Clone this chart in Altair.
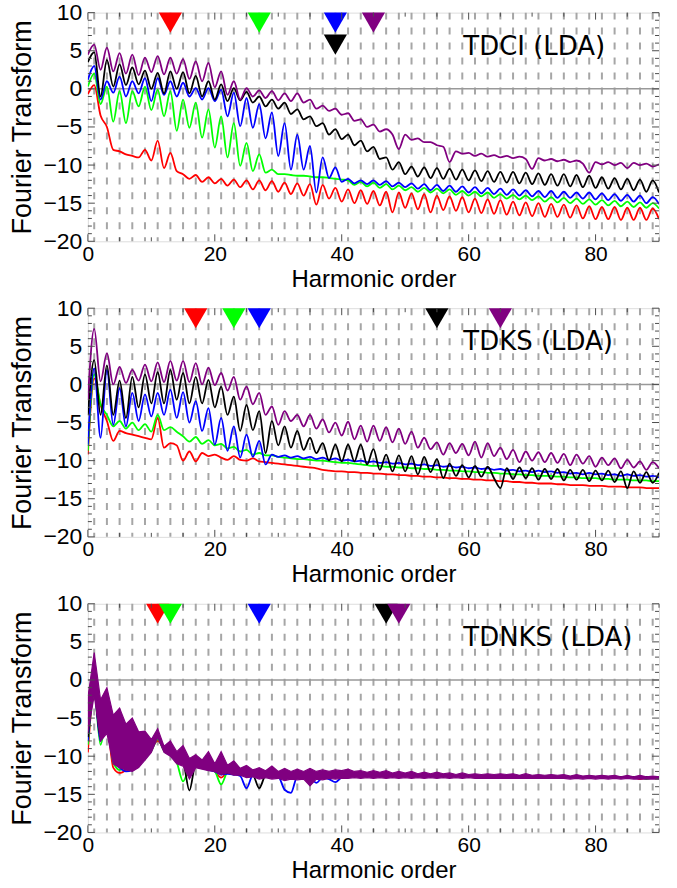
import altair as alt
import pandas as pd

HARM = list(range(91))
ODD = list(range(1, 90, 2))
NAMES = ["red", "green", "blue", "black", "purple"]
COLORS = {"red": "#ff0000", "green": "#00ff00", "blue": "#0000ff",
          "black": "#000000", "purple": "#800080"}
PANEL_LABELS = ["TDCI (LDA)", "TDKS (LDA)", "TDNKS (LDA)"]

# ---------------- Panel 1 : TDCI (LDA) ----------------
P1_RED = [-0.7, 0.5, -3.5, -5.0, -8.0, -8.2, -8.6, -8.8, -9.0, -8.0,
          -9.4, -6.8, -10.4, -8.4, -10.8, -11.2, -11.8, -11.3, -12.2, -11.6,
          -12.4, -11.8, -12.7, -11.9, -12.9, -12.0, -13.2, -12.0, -13.3, -12.1,
          -13.5, -12.3, -13.8, -12.4, -14.0, -12.5, -15.2, -12.6, -14.4, -13.0,
          -14.8, -13.2, -15.0, -13.3, -15.1, -13.4, -15.3, -13.5, -16.2, -13.6,
          -15.6, -13.7, -15.8, -13.8, -16.2, -14.0, -15.9, -14.1, -16.0, -14.2,
          -16.2, -14.4, -16.3, -14.5, -16.4, -14.6, -16.5, -14.8, -16.6, -14.9,
          -16.7, -15.0, -16.8, -15.1, -16.8, -15.2, -16.9, -15.3, -17.0, -15.4,
          -17.1, -15.5, -17.1, -15.5, -17.2, -15.6, -17.2, -15.6, -17.2, -15.7,
          -17.1]
P1_GREEN = [0.3, 2.0, -2.0, 0.3, -4.3, -0.3, -4.5, -0.3, -2.3, 0.3,
            -2.8, -0.1, -3.6, -0.3, -5.5, -1.4, -5.1, -1.8, -6.4, -2.7,
            -7.7, -3.6, -9.0, -4.5, -10.1, -7.1, -10.8, -8.6, -11.0, -10.6,
            -11.2, -11.2, -11.3, -11.4, -11.4, -11.5, -11.6, -11.6, -11.7, -11.8,
            -11.9, -12.0, -12.6, -12.2, -12.8, -12.3, -13.0, -12.5, -13.2, -12.7,
            -13.3, -12.9, -13.5, -13.0, -13.6, -13.1, -13.7, -13.2, -13.9, -13.4,
            -14.0, -13.5, -14.1, -13.6, -14.3, -13.8, -14.4, -13.9, -14.5, -14.0,
            -14.6, -14.1, -14.8, -14.2, -14.9, -14.3, -15.0, -14.4, -15.1, -14.5,
            -15.2, -14.6, -15.3, -14.7, -15.4, -14.8, -15.5, -14.9, -15.6, -15.0,
            -15.7]
P1_BLUE = [1.2, 3.0, -1.4, 1.0, -0.5, 1.6, -1.0, 1.0, -0.6, 1.4,
           -1.6, 1.4, -0.8, 1.0, -1.0, 0.8, -1.0, 0.1, -1.4, 0.1,
           -1.6, -0.1, -3.6, -0.5, -4.9, -1.2, -5.1, -2.0, -6.5, -3.1,
           -8.8, -4.5, -10.6, -6.0, -10.6, -7.5, -13.6, -9.0, -11.7, -10.3,
           -12.2, -11.8, -12.4, -12.0, -12.5, -12.0, -12.6, -12.1, -12.8, -12.3,
           -12.9, -12.4, -13.1, -12.5, -13.3, -12.6, -13.4, -12.7, -13.5, -12.8,
           -13.6, -12.9, -13.7, -13.0, -13.8, -13.1, -13.9, -13.2, -14.0, -13.3,
           -14.1, -13.4, -14.2, -13.4, -14.3, -13.5, -14.3, -13.6, -14.4, -13.6,
           -14.5, -13.7, -14.6, -13.8, -14.7, -13.9, -14.8, -14.0, -15.0, -14.2,
           -15.1]
P1_BLACK = [3.5, 4.8, -1.0, 3.8, 0.3, 3.2, 0.5, 2.8, 0.6, 2.4,
            0.0, 2.1, -0.6, 2.3, 0.0, 2.2, -0.6, 1.7, -1.0, 1.0,
            -1.4, 0.6, -1.6, 0.1, -1.5, -0.4, -1.8, -1.0, -2.3, -1.4,
            -2.6, -1.8, -3.3, -2.7, -4.0, -3.6, -4.9, -4.5, -6.0, -5.3,
            -6.6, -6.0, -7.4, -6.8, -8.2, -7.6, -9.2, -9.0, -10.6, -9.6,
            -11.2, -10.2, -11.5, -10.3, -11.7, -10.4, -11.8, -10.5, -11.9, -10.6,
            -12.0, -10.7, -12.1, -10.8, -12.2, -10.9, -12.3, -10.9, -12.4, -11.0,
            -12.5, -11.1, -12.6, -11.2, -12.7, -11.2, -12.8, -11.3, -12.9, -11.4,
            -13.0, -11.6, -13.1, -11.7, -13.2, -11.8, -13.3, -11.9, -13.5, -12.0,
            -13.6]
P1_PURPLE = [4.5, 5.8, 2.5, 5.4, 2.3, 4.7, 2.0, 4.5, 1.8, 4.1,
             2.2, 4.3, 1.9, 4.1, 2.0, 3.9, 1.3, 3.6, 1.0, 3.4,
             0.2, 2.3, -0.8, 1.0, -1.4, 0.1, -1.0, -0.2, -1.2, -0.3,
             -1.5, -0.6, -1.6, -0.6, -1.8, -1.4, -2.6, -2.2, -2.9, -2.6,
             -3.4, -3.2, -4.2, -4.0, -5.0, -4.7, -5.6, -5.3, -6.0, -7.9,
             -6.0, -6.7, -6.5, -7.0, -7.0, -7.4, -7.6, -9.6, -8.2, -8.5,
             -8.4, -8.8, -8.5, -8.9, -8.7, -9.0, -8.8, -9.1, -8.9, -9.2,
             -10.5, -9.1, -9.4, -9.2, -9.5, -9.3, -9.6, -9.4, -9.8, -11.0,
             -9.6, -9.9, -9.6, -10.0, -9.7, -10.4, -9.7, -10.0, -9.8, -10.2,
             -9.9]

# ---------------- Panel 2 : TDKS (LDA) ----------------
P2_RED = [-9.2, 0.8, -2.7, -4.8, -7.4, -6.1, -6.4, -6.6, -6.8, -7.0,
          -7.2, -4.4, -8.3, -7.7, -8.0, -10.0, -8.8, -10.1, -9.0, -9.4,
          -9.2, -9.6, -9.9, -9.4, -9.9, -10.0, -9.7, -10.1, -10.2, -10.3,
          -10.4, -10.5, -10.6, -10.7, -10.8, -10.9, -11.0, -11.2, -11.3, -11.4,
          -11.4, -11.5, -11.5, -11.6, -11.6, -11.7, -11.7, -11.8, -11.8, -11.9,
          -11.9, -12.0, -12.0, -12.1, -12.1, -12.2, -12.2, -12.3, -12.3, -12.4,
          -12.4, -12.5, -12.5, -12.6, -12.6, -12.7, -12.7, -12.8, -12.8, -12.9,
          -12.9, -13.0, -13.0, -13.0, -13.1, -13.1, -13.2, -13.2, -13.2, -13.3,
          -13.3, -13.3, -13.4, -13.4, -13.4, -13.5, -13.5, -13.5, -13.6, -13.6,
          -13.6]
P2_GREEN = [-8.7, 1.3, -2.6, -4.0, -5.5, -4.8, -5.8, -5.0, -6.0, -5.2,
            -6.2, -4.0, -6.0, -5.6, -6.2, -6.8, -7.5, -6.9, -7.8, -7.3,
            -8.0, -7.8, -8.4, -8.2, -8.8, -8.6, -9.2, -9.0, -9.3, -9.3,
            -9.5, -9.6, -9.7, -9.8, -9.8, -9.9, -10.0, -10.0, -10.1, -10.2,
            -10.3, -10.3, -10.4, -10.5, -10.6, -10.7, -10.7, -10.8, -10.8, -10.9,
            -10.9, -11.0, -11.0, -11.1, -11.1, -11.2, -11.2, -11.3, -11.3, -11.4,
            -11.4, -11.5, -11.5, -11.6, -11.6, -11.7, -11.7, -11.8, -11.8, -11.9,
            -11.9, -12.0, -12.0, -12.0, -12.1, -12.1, -12.2, -12.2, -12.3, -12.3,
            -12.3, -12.4, -12.4, -12.5, -12.5, -12.5, -12.6, -12.6, -12.6, -12.7,
            -12.7]
P2_BLUE = [-7.9, 2.1, -7.0, 1.9, -5.3, -0.5, -5.5, -1.1, -4.8, -1.3,
           -4.2, -1.1, -4.0, -0.7, -4.4, -1.0, -5.0, -2.2, -6.1, -3.1,
           -7.9, -4.4, -8.7, -5.5, -9.6, -6.6, -9.5, -7.4, -10.5, -9.2,
           -9.5, -9.3, -9.6, -9.4, -9.7, -9.5, -9.8, -9.6, -9.9, -9.7,
           -10.0, -9.9, -10.1, -10.0, -10.2, -10.1, -10.3, -10.2, -10.4, -10.3,
           -10.5, -10.4, -10.6, -10.5, -10.7, -10.6, -10.8, -10.7, -10.9, -10.8,
           -11.0, -10.9, -11.1, -11.0, -11.2, -11.1, -11.3, -11.2, -11.4, -11.3,
           -11.5, -11.3, -11.5, -11.4, -11.6, -11.5, -11.7, -11.6, -11.8, -11.6,
           -11.8, -11.7, -11.9, -11.8, -12.0, -11.8, -12.0, -11.9, -12.1, -12.0,
           -12.2]
P2_BLACK = [-4.0, 3.2, -4.0, 2.5, -4.0, 0.5, -4.4, 1.0, -3.0, 1.3,
            -2.5, 1.6, -2.5, 1.9, -2.0, 1.5, -2.5, 1.0, -2.5, 0.6,
            -3.0, -0.3, -4.0, -1.6, -6.1, -2.7, -6.0, -3.5, -9.0, -4.8,
            -8.0, -5.5, -8.3, -6.1, -8.6, -7.0, -9.0, -7.7, -10.0, -7.9,
            -10.1, -7.9, -10.1, -7.9, -10.5, -8.5, -11.2, -9.2, -11.4, -9.3,
            -11.4, -9.4, -11.8, -9.5, -11.5, -9.8, -12.3, -10.4, -12.0, -10.6,
            -12.2, -10.7, -12.1, -10.8, -12.3, -13.6, -11.0, -12.4, -10.9, -12.3,
            -11.0, -12.5, -11.1, -12.4, -11.1, -12.6, -11.2, -12.5, -11.2, -12.7,
            -11.3, -12.6, -11.3, -12.8, -11.4, -13.6, -11.4, -12.9, -11.5, -12.9,
            -11.6]
P2_PURPLE = [-2.0, 7.3, 0.4, 4.1, 0.0, 2.3, 0.2, 1.9, 0.5, 2.6,
             0.4, 2.9, 0.3, 3.1, 0.5, 3.1, 0.3, 2.8, 0.0, 2.2,
             -0.1, 1.5, -0.8, 1.0, -2.0, -0.3, -2.6, -1.1, -4.0, -2.9,
             -5.3, -3.5, -4.8, -4.0, -5.5, -4.0, -5.8, -4.6, -6.3, -5.0,
             -6.7, -4.9, -7.2, -5.4, -7.5, -5.4, -7.4, -5.6, -7.6, -5.8,
             -7.8, -6.2, -8.3, -7.0, -8.5, -7.6, -9.2, -7.7, -9.0, -7.8,
             -9.3, -7.5, -9.6, -7.7, -9.4, -8.3, -9.8, -8.6, -10.2, -8.8,
             -10.0, -8.9, -10.2, -9.0, -10.3, -9.1, -10.6, -9.2, -10.4, -9.4,
             -10.8, -9.6, -10.6, -9.7, -11.0, -9.9, -10.9, -10.1, -11.2, -10.2,
             -11.0]

# ---------------- Panel 3 : TDNKS (LDA) ----------------
P3_RED = [-9.5, -1.5, -7.5, -6.0, -11.5, -12.2, -11.8, -11.0, -10.5, -10.0,
          -9.0, -8.0, -9.0, -9.5, -10.5, -11.0, -12.0, -11.0, -11.5, -11.5,
          -12.0, -12.8, -12.2, -12.2, -12.4, -12.3, -12.5, -12.4, -12.5, -12.4,
          -12.5, -12.4, -12.5, -12.4, -12.5, -12.5, -12.5, -12.5, -12.5, -12.5,
          -12.5, -12.5, -12.5, -12.5, -12.5, -12.5, -12.5, -12.5, -12.5, -12.5,
          -12.5, -12.5, -12.6, -12.6, -12.6, -12.6, -12.6, -12.6, -12.6, -12.6,
          -12.6, -12.6, -12.6, -12.6, -12.6, -12.6, -12.6, -12.6, -12.6, -12.6,
          -12.7, -12.7, -12.7, -12.7, -12.7, -12.7, -12.7, -12.7, -12.7, -12.7,
          -12.7, -12.7, -12.7, -12.7, -12.7, -12.7, -12.7, -13.0, -12.8, -12.8,
          -12.8]
P3_GREEN = [-8.5, -1.8, -8.5, -5.0, -10.8, -11.8, -11.5, -11.3, -10.8, -10.2,
            -9.3, -7.8, -9.3, -9.8, -10.8, -13.3, -11.5, -11.0, -11.5, -11.7,
            -12.0, -13.7, -12.2, -12.3, -12.4, -12.4, -12.5, -12.5, -12.5, -12.5,
            -12.5, -12.5, -12.5, -12.5, -12.5, -12.5, -12.5, -12.5, -12.5, -12.5,
            -12.5, -12.5, -12.5, -12.5, -12.5, -12.5, -12.5, -12.5, -12.5, -12.5,
            -12.5, -12.5, -12.6, -12.6, -12.6, -12.6, -12.6, -12.6, -12.6, -12.6,
            -12.6, -12.6, -12.6, -12.6, -12.6, -12.6, -12.6, -12.6, -12.6, -12.6,
            -12.7, -12.7, -12.7, -12.7, -12.7, -12.7, -12.7, -12.7, -12.7, -12.7,
            -12.7, -12.7, -12.7, -12.7, -12.7, -12.7, -12.7, -12.7, -13.0, -12.8,
            -12.8]
P3_BLUE = [-8.0, -1.6, -8.0, -4.0, -10.5, -11.5, -12.0, -11.8, -11.0, -10.2,
           -9.2, -7.6, -9.2, -9.8, -10.6, -11.0, -12.0, -11.0, -11.5, -11.8,
           -12.0, -12.4, -12.3, -12.4, -12.6, -14.2, -12.5, -12.6, -12.6, -12.7,
           -12.7, -14.4, -14.8, -12.7, -12.8, -12.8, -13.5, -12.8, -13.0, -13.4,
           -12.8, -12.7, -12.6, -12.6, -12.6, -12.6, -12.6, -12.6, -12.6, -12.6,
           -12.6, -12.6, -12.6, -12.6, -12.6, -12.6, -12.6, -12.6, -12.6, -12.6,
           -12.6, -12.6, -12.6, -12.6, -12.6, -12.6, -12.6, -12.6, -12.6, -12.6,
           -12.7, -12.7, -12.7, -12.7, -12.7, -12.7, -12.7, -12.7, -12.7, -12.7,
           -12.7, -12.7, -12.7, -12.7, -12.7, -12.7, -12.7, -12.7, -12.7, -12.8,
           -12.8]
P3_BLACK = [-7.5, -1.5, -7.5, -3.5, -10.2, -11.2, -11.6, -11.6, -10.8, -10.0,
            -9.0, -7.4, -9.0, -9.6, -10.4, -10.8, -14.5, -11.0, -11.4, -11.6,
            -11.9, -12.2, -12.2, -12.3, -12.4, -12.5, -12.5, -14.2, -12.6, -12.6,
            -12.6, -12.6, -12.6, -12.6, -12.6, -12.6, -12.6, -12.6, -12.6, -12.6,
            -12.6, -12.6, -12.6, -12.6, -12.6, -12.6, -12.6, -12.6, -12.6, -12.6,
            -12.6, -12.6, -12.6, -12.6, -12.6, -12.6, -12.6, -12.6, -12.6, -12.6,
            -12.6, -12.6, -12.6, -12.6, -12.6, -12.6, -12.6, -12.6, -12.6, -12.6,
            -12.7, -12.7, -12.7, -12.7, -12.7, -12.7, -12.7, -12.7, -12.7, -12.7,
            -12.7, -12.7, -12.7, -12.7, -12.7, -12.7, -12.7, -12.7, -12.7, -12.8,
            -12.8]
P3_PURPLE_HI = [-2.3, 3.6, -2.6, -1.0, -4.6, -3.7, -5.8, -5.0, -6.8, -6.7,
                -7.8, -6.4, -8.7, -8.0, -9.4, -8.6, -10.3, -9.8, -10.5, -9.4,
                -11.0, -9.4, -11.2, -10.6, -11.6, -11.2, -11.8, -11.5, -11.9, -11.3,
                -12.0, -11.6, -12.0, -11.7, -12.0, -11.6, -12.0, -11.8, -12.0, -11.8,
                -11.9, -11.7, -12.0, -11.9, -12.1, -11.9, -12.1, -11.9, -12.2, -12.0,
                -12.2, -12.0, -12.3, -12.1, -12.3, -12.1, -12.3, -12.2, -12.4, -12.2,
                -12.4, -12.3, -12.4, -12.3, -12.4, -12.3, -12.4, -12.3, -12.5, -12.3,
                -12.5, -12.4, -12.5, -12.4, -12.5, -12.4, -12.6, -12.4, -12.6, -12.5,
                -12.6, -12.5, -12.6, -12.5, -12.7, -12.5, -12.7, -12.5, -12.7, -12.6,
                -12.7]
P3_PURPLE_LO = [-7.0, -2.0, -8.0, -7.0, -11.0, -11.5, -11.8, -12.0, -11.5, -10.5,
                -9.5, -7.5, -9.5, -10.0, -11.0, -11.3, -13.0, -11.5, -11.7, -11.9,
                -12.0, -12.4, -12.2, -12.5, -12.5, -12.8, -12.7, -13.0, -12.8, -13.0,
                -12.9, -13.2, -13.0, -13.1, -13.0, -13.9, -13.0, -13.1, -12.9, -13.0,
                -12.9, -12.9, -12.8, -12.9, -12.8, -12.9, -12.8, -12.9, -12.8, -12.9,
                -12.8, -12.9, -12.8, -12.9, -12.8, -12.9, -12.8, -12.9, -12.8, -12.9,
                -12.8, -12.9, -12.9, -12.9, -12.9, -12.9, -12.9, -12.9, -12.9, -12.9,
                -12.9, -12.9, -12.9, -12.9, -12.9, -12.9, -13.0, -12.9, -13.0, -12.9,
                -13.0, -12.9, -13.0, -12.9, -13.0, -12.9, -13.0, -13.0, -13.0, -13.0,
                -13.0]

# arrow markers (harmonic order of each cutoff) per panel
MARKERS = [
    {"s": ["red", "green", "blue", "black", "purple"], "h": [13, 27, 39, 39, 45], "row": [0, 0, 0, 1, 0]},
    {"s": ["red", "green", "blue", "black", "purple"], "h": [17, 23, 27, 55, 65], "row": [0, 0, 0, 0, 0]},
    {"s": ["red", "green", "blue", "black", "purple"], "h": [11, 13, 27, 47, 49], "row": [0, 0, 0, 0, 0]},
]

PANELS = [
    {"red": P1_RED, "green": P1_GREEN, "blue": P1_BLUE, "black": P1_BLACK, "purple": P1_PURPLE},
    {"red": P2_RED, "green": P2_GREEN, "blue": P2_BLUE, "black": P2_BLACK, "purple": P2_PURPLE},
    {"red": P3_RED, "green": P3_GREEN, "blue": P3_BLUE, "black": P3_BLACK},
]

W, H = 572, 229
FRAME = "#4d4d4d"
AXFONT = "Liberation Sans"
xs = alt.Scale(domain=[0, 90], nice=False, zero=False)
ys = alt.Scale(domain=[-20, 10], nice=False, zero=False)
X_AX = alt.Axis(values=[0, 20, 40, 60, 80], title="Harmonic order", ticks=False, domain=False,
                grid=False, labelFlush=False, labelFontSize=21, labelFont=AXFONT,
                labelColor="black", labelPadding=2, titleFontSize=24, titleFont=AXFONT,
                titleFontWeight="normal", titleColor="black", titlePadding=3)
Y_AX = alt.Axis(values=[-20, -15, -10, -5, 0, 5, 10], title="Fourier Transform", ticks=False,
                domain=False, grid=False, labelFlush=False, labelFontSize=23, labelFont=AXFONT,
                labelColor="black", labelPadding=6, titleFontSize=27, titleFont=AXFONT,
                titleFontWeight="normal", titleColor="black", titlePadding=6)


def X(field):
    return alt.X(field, type="quantitative", scale=xs, axis=X_AX)


def Y(field):
    return alt.Y(field, type="quantitative", scale=ys, axis=Y_AX)


def frame_ticks():
    ymaj = pd.DataFrame({"t": [v for v in range(-20, 11) if v % 5 == 0]})
    ymin = pd.DataFrame({"t": [v for v in range(-20, 11) if v % 5 != 0]})
    xmaj = pd.DataFrame({"t": [v for v in range(0, 91, 5) if v % 20 == 0]})
    xmin = pd.DataFrame({"t": [v for v in range(0, 91, 5) if v % 20 != 0]})
    out = []
    for df, ln in ((ymaj, 7), (ymin, 4)):
        out.append(alt.Chart(df).mark_rule(color=FRAME, strokeWidth=1).encode(
            y=Y("t"), x=alt.value(0), x2=alt.value(ln)))
        out.append(alt.Chart(df).mark_rule(color=FRAME, strokeWidth=1).encode(
            y=Y("t"), x=alt.value(W - ln), x2=alt.value(W)))
    for df, ln in ((xmaj, 7), (xmin, 4)):
        out.append(alt.Chart(df).mark_rule(color=FRAME, strokeWidth=1).encode(
            x=X("t"), y=alt.value(H - ln), y2=alt.value(H)))
        out.append(alt.Chart(df).mark_rule(color=FRAME, strokeWidth=1).encode(
            x=X("t"), y=alt.value(0), y2=alt.value(ln)))
    return out


def panel(i):
    layers = []
    layers.append(alt.Chart(pd.DataFrame({"h": ODD})).mark_rule(
        color="#a6a6a6", strokeWidth=2, strokeDash=[7, 8]).encode(x=X("h")))
    layers.append(alt.Chart(pd.DataFrame({"z": [0]})).mark_rule(
        color="#999999", strokeWidth=1.5).encode(y=Y("z")))
    series = PANELS[i]
    for name in NAMES:
        if name in series:
            df = pd.DataFrame({"x": HARM, "y": series[name]})
            layers.append(alt.Chart(df).mark_line(
                color=COLORS[name], strokeWidth=1.8, clip=True,
                interpolate="monotone").encode(x=X("x"), y=Y("y")))
    if i == 2:
        df = pd.DataFrame({"x": HARM, "hi": P3_PURPLE_HI, "lo": P3_PURPLE_LO})
        layers.append(alt.Chart(df).mark_area(
            color=COLORS["purple"], stroke=COLORS["purple"], strokeWidth=1.2, clip=True).encode(
            x=X("x"), y=Y("hi"), y2="lo"))
    m = MARKERS[i]
    mdf = pd.DataFrame({"h": m["h"], "s": m["s"], "row": m["row"]})
    for rw, py in ((0, 10), (1, 32)):
        sub = mdf[mdf["row"] == rw]
        if len(sub):
            layers.append(alt.Chart(sub).mark_point(
                shape="triangle-down", filled=True, size=540, opacity=1).encode(
                x=X("h"), y=alt.value(py),
                color=alt.Color("s:N", scale=alt.Scale(domain=NAMES, range=[COLORS[n] for n in NAMES]),
                                legend=None)))
    layers.append(alt.Chart(pd.DataFrame({"t": [PANEL_LABELS[i]]})).mark_text(
        align="left", baseline="middle", font="DejaVu Sans", fontSize=26, color="black").encode(
        text="t:N", x=alt.value(376), y=alt.value(34)))
    layers += frame_ticks()
    return alt.layer(*layers).properties(width=W, height=H)


chart = alt.vconcat(panel(0), panel(1), panel(2), spacing=67, bounds="flush").properties(
    padding={"left": 8, "top": 0, "right": 16, "bottom": 0}
).configure_view(stroke=FRAME, strokeWidth=1).configure(background="white")

chart.save("out.html", embed_options={"renderer": "svg", "actions": False})
